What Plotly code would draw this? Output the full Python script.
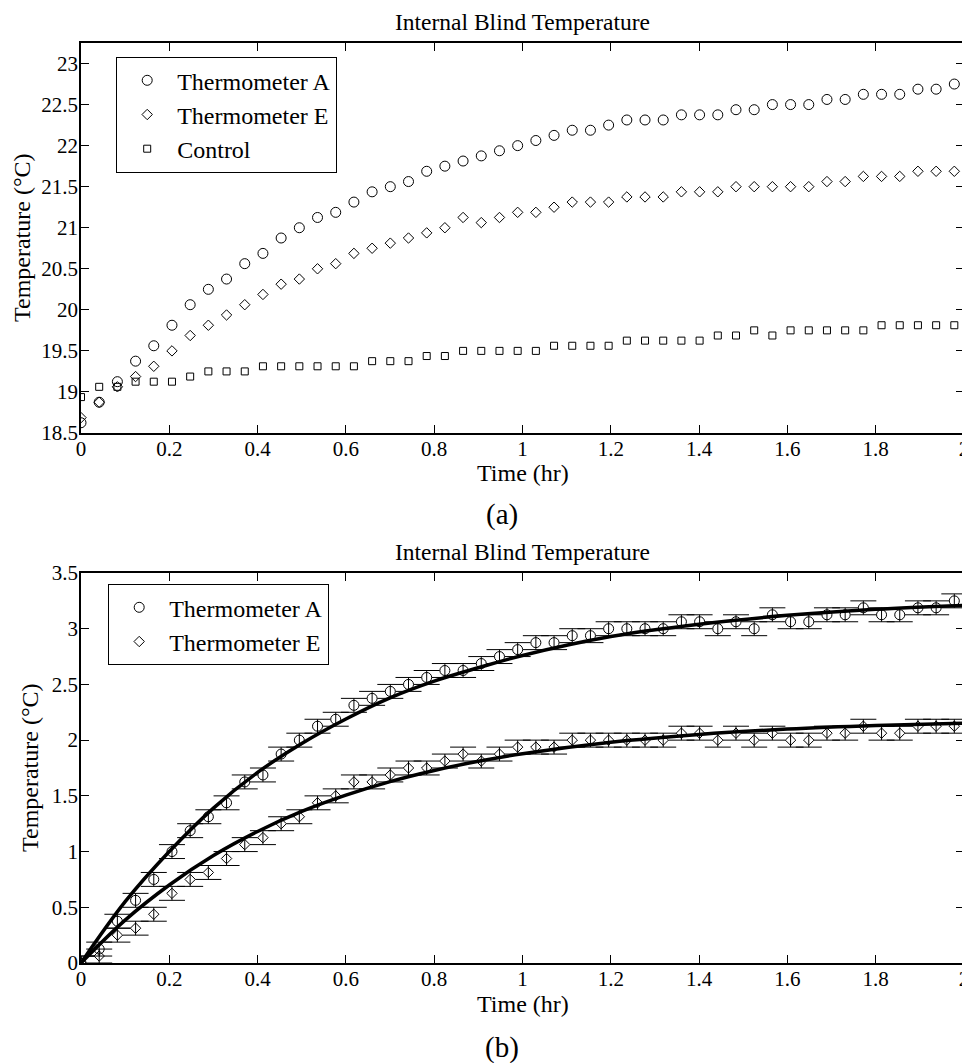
import plotly.graph_objects as go

# ---------------- data ----------------
time_hr = [i * 0.04121 for i in range(49)]  # sample times (hr), 49 readings

therm_a = [18.625, 18.875, 19.125, 19.375, 19.5625, 19.8125, 20.0625, 20.25, 20.375, 20.5625,
           20.6875, 20.875, 21.0, 21.125, 21.1875, 21.3125, 21.4375, 21.5, 21.5625, 21.6875,
           21.75, 21.8125, 21.875, 21.9375, 22.0, 22.0625, 22.125, 22.1875, 22.1875, 22.25,
           22.3125, 22.3125, 22.3125, 22.375, 22.375, 22.375, 22.4375, 22.4375, 22.5, 22.5,
           22.5, 22.5625, 22.5625, 22.625, 22.625, 22.625, 22.6875, 22.6875, 22.75]
therm_e = [18.6875, 18.875, 19.0625, 19.1875, 19.3125, 19.5, 19.6875, 19.8125, 19.9375, 20.0625,
           20.1875, 20.3125, 20.375, 20.5, 20.5625, 20.6875, 20.75, 20.8125, 20.875, 20.9375,
           21.0, 21.125, 21.0625, 21.125, 21.1875, 21.1875, 21.25, 21.3125, 21.3125, 21.3125,
           21.375, 21.375, 21.375, 21.4375, 21.4375, 21.4375, 21.5, 21.5, 21.5, 21.5,
           21.5, 21.5625, 21.5625, 21.625, 21.625, 21.625, 21.6875, 21.6875, 21.6875]
control = [18.9375, 19.0625, 19.0625, 19.125, 19.125, 19.125, 19.1875, 19.25, 19.25, 19.25,
           19.3125, 19.3125, 19.3125, 19.3125, 19.3125, 19.3125, 19.375, 19.375, 19.375, 19.4375,
           19.4375, 19.5, 19.5, 19.5, 19.5, 19.5, 19.5625, 19.5625, 19.5625, 19.5625,
           19.625, 19.625, 19.625, 19.625, 19.625, 19.6875, 19.6875, 19.75, 19.6875, 19.75,
           19.75, 19.75, 19.75, 19.75, 19.8125, 19.8125, 19.8125, 19.8125, 19.8125]

# panel (b): rise relative to control
rise_a = [0.0, 0.125, 0.375, 0.5625, 0.75, 1.0, 1.1875, 1.3125, 1.4375, 1.625,
          1.6875, 1.875, 2.0, 2.125, 2.1875, 2.3125, 2.375, 2.4375, 2.5, 2.5625,
          2.625, 2.625, 2.6875, 2.75, 2.8125, 2.875, 2.875, 2.9375, 2.9375, 3.0,
          3.0, 3.0, 3.0, 3.0625, 3.0625, 3.0, 3.0625, 3.0, 3.125, 3.0625,
          3.0625, 3.125, 3.125, 3.1875, 3.125, 3.125, 3.1875, 3.1875, 3.25]
rise_e = [0.0, 0.0625, 0.25, 0.3125, 0.4375, 0.625, 0.75, 0.8125, 0.9375, 1.0625,
          1.125, 1.25, 1.3125, 1.4375, 1.5, 1.625, 1.625, 1.6875, 1.75, 1.75,
          1.8125, 1.875, 1.8125, 1.875, 1.9375, 1.9375, 1.9375, 2.0, 2.0, 2.0,
          2.0, 2.0, 2.0, 2.0625, 2.0625, 2.0, 2.0625, 2.0, 2.0625, 2.0,
          2.0, 2.0625, 2.0625, 2.125, 2.0625, 2.0625, 2.125, 2.125, 2.125]
rise_err = 0.0625

fit_t = [0.0, 0.1, 0.2, 0.3, 0.4, 0.5, 0.6, 0.7, 0.8, 0.9, 1.0, 1.2, 1.4, 1.6, 1.8, 2.0]
fit_a = [0.0, 0.55, 1.0, 1.39, 1.71, 1.97, 2.19, 2.38, 2.53, 2.65, 2.76, 2.93, 3.04, 3.12, 3.175, 3.21]
fit_e = [0.0, 0.385, 0.70, 0.964, 1.18, 1.36, 1.506, 1.628, 1.728, 1.81, 1.878, 1.981, 2.051, 2.099, 2.131, 2.153]

x_ticks = [0, 0.2, 0.4, 0.6, 0.8, 1, 1.2, 1.4, 1.6, 1.8, 2]
x_labels = ["0", "0.2", "0.4", "0.6", "0.8", "1", "1.2", "1.4", "1.6", "1.8", "2"]
ya_ticks = [18.5, 19, 19.5, 20, 20.5, 21, 21.5, 22, 22.5, 23]
ya_labels = ["18.5", "19", "19.5", "20", "20.5", "21", "21.5", "22", "22.5", "23"]
yb_ticks = [0, 0.5, 1, 1.5, 2, 2.5, 3, 3.5]
yb_labels = ["0", "0.5", "1", "1.5", "2", "2.5", "3", "3.5"]

# ---------------- figure ----------------
FONT = "Liberation Serif"
OFF = 8                     # page body margin in the browser
W, H = 970 - OFF, 1063 - OFF
fig = go.Figure()

circ = dict(symbol="circle-open", size=10, color="black", line=dict(width=1))
diam = dict(symbol="diamond-open", size=8, color="black", line=dict(width=1))
sqr = dict(symbol="square-open", size=7, color="black", line=dict(width=1))

fig.add_trace(go.Scatter(x=time_hr, y=therm_a, mode="markers", name="Thermometer A",
                         marker=circ, xaxis="x", yaxis="y", legend="legend"))
fig.add_trace(go.Scatter(x=time_hr, y=therm_e, mode="markers", name="Thermometer E",
                         marker=diam, xaxis="x", yaxis="y", legend="legend"))
fig.add_trace(go.Scatter(x=time_hr, y=control, mode="markers", name="Control",
                         marker=sqr, xaxis="x", yaxis="y", legend="legend"))

# panel b
fig.add_trace(go.Scatter(x=fit_t, y=fit_a, mode="lines", line=dict(color="black", width=3.5, shape="spline"),
                         showlegend=False, xaxis="x2", yaxis="y2", hoverinfo="skip"))
fig.add_trace(go.Scatter(x=fit_t, y=fit_e, mode="lines", line=dict(color="black", width=3.5, shape="spline"),
                         showlegend=False, xaxis="x2", yaxis="y2", hoverinfo="skip"))
fig.add_trace(go.Scatter(x=time_hr, y=rise_a, mode="markers", name="Thermometer A",
                         marker=circ,
                         error_y=dict(type="constant", value=rise_err, color="black", thickness=1, width=13),
                         xaxis="x2", yaxis="y2", legend="legend2"))
fig.add_trace(go.Scatter(x=time_hr, y=rise_e, mode="markers", name="Thermometer E",
                         marker=diam,
                         error_y=dict(type="constant", value=rise_err, color="black", thickness=1, width=13),
                         xaxis="x2", yaxis="y2", legend="legend2"))

def px_x(p):
    return (p - OFF) / W

def px_y(p):
    return 1 - (p - OFF) / H

x_dom = [px_x(81), px_x(964)]
top_dom = [px_y(433), px_y(43)]
bot_dom = [px_y(963), px_y(573)]

axis_common = dict(showline=True, linecolor="black", linewidth=1.5, mirror="ticks",
                   ticks="inside", ticklen=8, tickwidth=1, tickcolor="black",
                   showgrid=False, zeroline=False, automargin=False,
                   tickfont=dict(family=FONT, size=21, color="black"))

leg_common = dict(xanchor="left", yanchor="top", bordercolor="black", borderwidth=1.2,
                  bgcolor="white", font=dict(family=FONT, size=24, color="black"),
                  itemwidth=50, tracegroupgap=0)

fig.update_layout(
    width=W, height=H,
    margin=dict(l=0, r=0, t=0, b=0, autoexpand=False),
    paper_bgcolor="white", plot_bgcolor="white",
    font=dict(family=FONT, color="black"),
    xaxis=dict(domain=x_dom, anchor="y", range=[0, 2], tickvals=x_ticks, ticktext=x_labels,
               ticklabelstandoff=-4, **axis_common),
    yaxis=dict(domain=top_dom, anchor="x", range=[18.5, 23.25], tickvals=ya_ticks, ticktext=ya_labels,
               ticklabelstandoff=-3, **axis_common),
    xaxis2=dict(domain=x_dom, anchor="y2", range=[0, 2], tickvals=x_ticks, ticktext=x_labels,
                ticklabelstandoff=-4, **axis_common),
    yaxis2=dict(domain=bot_dom, anchor="x2", range=[0, 3.5], tickvals=yb_ticks, ticktext=yb_labels,
                ticklabelstandoff=-3, **axis_common),
    legend=dict(x=px_x(116), y=px_y(57), **leg_common),
    legend2=dict(x=px_x(108), y=px_y(584), **leg_common),
    showlegend=True,
)

ann = []
def add_text(text, x, y, size, angle=0, family=FONT):
    ann.append(dict(text=text, x=px_x(x), y=px_y(y), xref="paper", yref="paper",
                    showarrow=False, xanchor="center", yanchor="middle", textangle=angle,
                    font=dict(family=family, size=size, color="black")))

add_text("Internal Blind Temperature", 522.5, 22, 23.5)
add_text("Time (hr)", 522.5, 473, 24)
add_text("Temperature (°C)", 22, 238, 24, angle=-90)
add_text("(a)", 502, 514, 29)
add_text("Internal Blind Temperature", 522.5, 552, 23.5)
add_text("Time (hr)", 522.5, 1004, 24)
add_text("Temperature (°C)", 30, 768, 24, angle=-90)
add_text("(b)", 502, 1047, 29)
fig.update_layout(annotations=ann)

fig.write_html("out.html")
